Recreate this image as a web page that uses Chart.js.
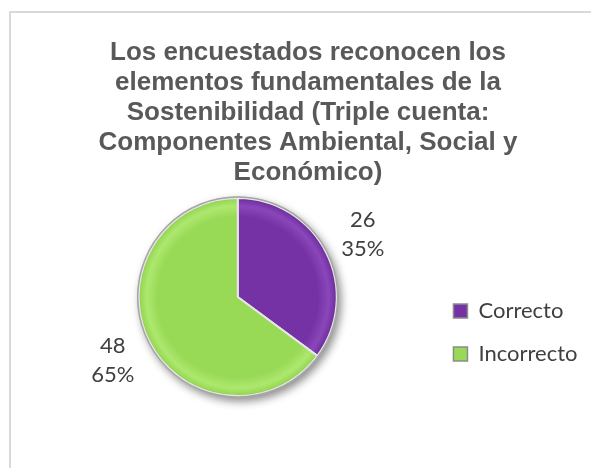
<!DOCTYPE html>
<html>
<head>
<meta charset="utf-8">
<script src="https://cdn.jsdelivr.net/npm/chart.js"></script>
<style>
  html, body { margin: 0; padding: 0; background: #fff; }
  #wrap { width: 591px; height: 468px; position: relative; }
</style>
</head>
<body>
<div id="wrap"><canvas id="pie"></canvas></div>
<script>
const categories = ["Correcto", "Incorrecto"];
const counts = [26, 48];
const baseColors = ["#7432a4", "#98d955"];
const lightColors = ["#8a47bb", "#ade86f"];
const darkColors = ["#55207c", "#78b23e"];
const titleLines = [
  "Los encuestados reconocen los",
  "elementos fundamentales de la",
  "Sostenibilidad (Triple cuenta:",
  "Componentes Ambiental, Social y",
  "Económico)"
];

const total = counts.reduce((a, b) => a + b, 0);

function sliceFill(ctx) {
  const chart = ctx.chart;
  const area = chart.chartArea;
  const i = ctx.dataIndex;
  if (!area) return baseColors[i];
  const cx = (area.left + area.right) / 2;
  const cy = (area.top + area.bottom) / 2;
  const r = Math.min(area.width, area.height) / 2;
  const g = chart.ctx.createRadialGradient(cx, cy, 0, cx, cy, r);
  g.addColorStop(0, baseColors[i]);
  g.addColorStop(0.8, baseColors[i]);
  g.addColorStop(0.91, lightColors[i]);
  g.addColorStop(0.97, baseColors[i]);
  g.addColorStop(1, darkColors[i]);
  return g;
}

// frame, shadow and outer ring
const pieDecor = {
  id: "pieDecor",
  beforeDraw(chart) {
    const c = chart.ctx;
    c.save();
    c.strokeStyle = "#d9d9d9";
    c.lineWidth = 2;
    c.strokeRect(10, 12, 600, 480);
    c.restore();
  },
  beforeDatasetsDraw(chart) {
    const arc = chart.getDatasetMeta(0).data[0];
    if (!arc) return;
    const c = chart.ctx;
    c.save();
    c.shadowColor = "rgba(0,0,0,0.45)";
    c.shadowBlur = 8;
    c.shadowOffsetX = 3;
    c.shadowOffsetY = 4;
    c.fillStyle = "#bfbfbf";
    c.beginPath();
    c.arc(arc.x, arc.y, arc.outerRadius + 1.5, 0, Math.PI * 2);
    c.fill();
    c.restore();
  },
  afterDatasetsDraw(chart) {
    const arc = chart.getDatasetMeta(0).data[0];
    if (!arc) return;
    const c = chart.ctx;
    c.save();
    c.strokeStyle = "#a6a6a6";
    c.lineWidth = 1.5;
    c.beginPath();
    c.arc(arc.x, arc.y, arc.outerRadius + 1, 0, Math.PI * 2);
    c.stroke();
    c.restore();
  }
};

// value + percent labels outside each slice
const sliceLabels = {
  id: "sliceLabels",
  afterDatasetsDraw(chart, args, opts) {
    const c = chart.ctx;
    const meta = chart.getDatasetMeta(0);
    c.save();
    c.font = opts.font;
    c.fillStyle = opts.color;
    c.textAlign = "center";
    c.textBaseline = "middle";
    meta.data.forEach((arc, i) => {
      const p = arc.getProps(["x", "y", "startAngle", "endAngle", "outerRadius"], true);
      const mid = (p.startAngle + p.endAngle) / 2;
      const d = p.outerRadius + opts.offset;
      const x = p.x + Math.cos(mid) * d;
      const y = p.y + Math.sin(mid) * d;
      const pct = Math.round(counts[i] / total * 100) + "%";
      c.fillText(String(counts[i]), x, y - opts.lineGap / 2);
      c.fillText(pct, x, y + opts.lineGap / 2);
    });
    c.restore();
  }
};

new Chart(document.getElementById("pie"), {
  type: "pie",
  data: {
    labels: categories,
    datasets: [
      {
        data: counts,
        backgroundColor: sliceFill,
        borderColor: "#e6e6e6",
        borderWidth: 2,
        hoverOffset: 0
      }
    ]
  },
  plugins: [pieDecor, sliceLabels],
  options: {
    responsive: true,
    maintainAspectRatio: false,
    animation: false,
    events: [],
    layout: {
      padding: { left: 28.5, right: 3.5, top: 0, bottom: 71 }
    },
    plugins: {
      title: {
        display: true,
        text: titleLines,
        color: "#595959",
        font: { family: "'Liberation Sans', Arial, sans-serif", size: 26, weight: "bold", lineHeight: "30px" },
        padding: { top: 38, bottom: 9 }
      },
      legend: {
        display: true,
        position: "right",
        align: "start",
        title: { display: true, text: " ", font: { size: 1 }, padding: { top: 292.3, bottom: 0 } },
        labels: {
          boxWidth: 14,
          boxHeight: 14,
          padding: 6.5,
          color: "#404040",
          font: { family: "Lato, 'Noto Sans', sans-serif", size: 22, lineHeight: "36.5px" },
          generateLabels: () => categories.map((name, i) => ({
            text: [name],
            fillStyle: baseColors[i],
            strokeStyle: "#8c8c8c",
            lineWidth: 1.5,
            fontColor: "#404040",
            hidden: false,
            index: i
          }))
        }
      },
      tooltip: { enabled: false },
      sliceLabels: {
        font: "22px Lato, 'Noto Sans', sans-serif",
        color: "#404040",
        offset: 41,
        lineGap: 29
      }
    }
  }
});
</script>
</body>
</html>
